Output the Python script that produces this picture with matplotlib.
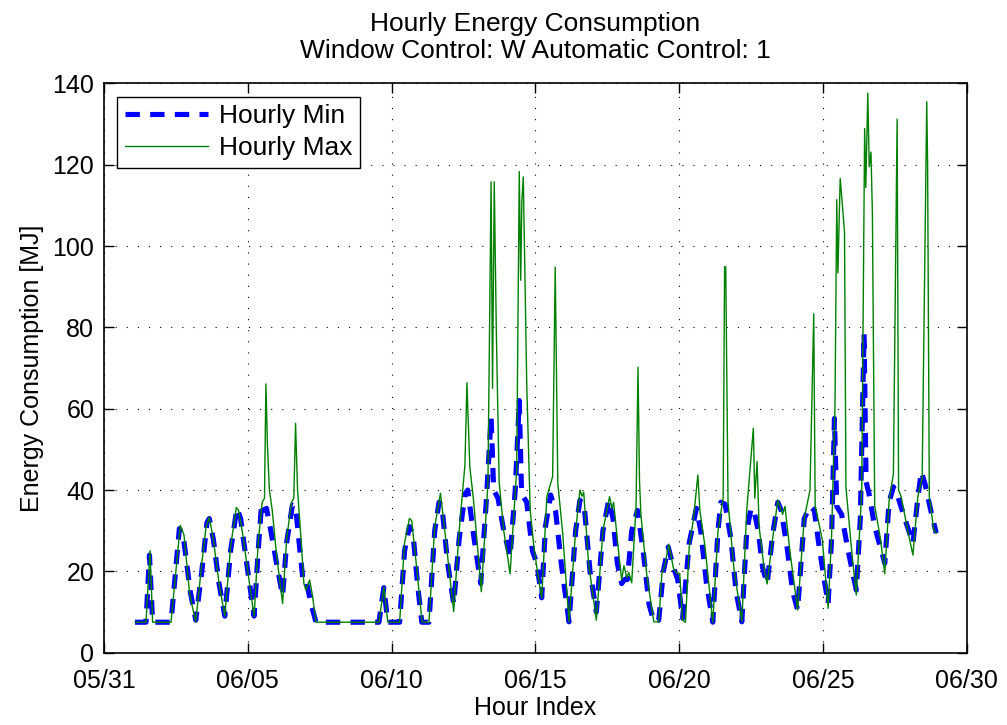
import numpy as np
import pandas as pd
import matplotlib
matplotlib.use('Agg')
import matplotlib.pyplot as plt
import matplotlib.dates as mdates

plt.rcParams['font.family'] = ['Liberation Sans', 'DejaVu Sans']

# Hourly min: (day offset from 05/31, MJ)
t_min = [1.08, 1.46, 1.58, 1.69, 2.33, 2.62, 2.75, 3.00, 3.19, 3.40, 3.58, 3.66, 3.80, 4.00,
         4.20, 4.40, 4.62, 4.75, 5.00, 5.22, 5.36, 5.48, 5.55, 5.65, 5.80, 6.00, 6.21, 6.35,
         6.55, 6.66, 6.80, 6.93, 7.05, 7.20, 7.37, 9.56, 9.73, 9.87, 10.28, 10.45, 10.62, 10.75,
         10.90, 11.05, 11.30, 11.50, 11.65, 11.75, 11.95, 12.16, 12.35, 12.55, 12.65, 12.85,
         13.10, 13.30, 13.46, 13.55, 13.70, 13.90, 14.12, 14.30, 14.44, 14.52, 14.70, 14.90,
         15.05, 15.22, 15.35, 15.53, 15.70, 15.90, 16.17, 16.40, 16.55, 16.70, 16.90, 17.12,
         17.35, 17.55, 17.70, 17.85, 18.00, 18.10, 18.20, 18.35, 18.55, 18.75, 18.95, 19.12,
         19.29, 19.45, 19.62, 19.80, 19.95, 20.12, 20.35, 20.60, 20.75, 20.95, 21.17, 21.35,
         21.45, 21.60, 21.80, 21.98, 22.18, 22.35, 22.50, 22.60, 22.75, 22.90, 23.06, 23.25,
         23.43, 23.55, 23.75, 23.95, 24.12, 24.35, 24.55, 24.70, 24.85, 25.00, 25.18, 25.30,
         25.40, 25.48, 25.65, 25.85, 26.16, 26.30, 26.43, 26.50, 26.60, 26.80, 27.15, 27.30,
         27.45, 27.60, 27.80, 28.13, 28.30, 28.42, 28.55, 28.75, 28.94]
e_min = [7.5, 7.5, 24, 7.5, 7.5, 30.5, 29, 15, 8, 20, 32, 33, 28, 17,
         9, 25, 35.5, 33, 20, 9, 25, 36.7, 35, 35.5, 30, 22, 14, 27,
         36.3, 36, 26, 17, 17, 12, 7.5, 7.5, 16, 7.5, 7.5, 25, 31, 29,
         17, 7.5, 7.5, 30, 37, 36, 22, 12, 28, 39, 40, 29,
         17, 38, 58, 40, 38, 30, 23.6, 40, 62, 39, 37, 25,
         22, 13.5, 31, 38.8, 35, 22, 7.6, 30, 37.5, 36, 20, 10,
         30, 37.5, 33, 22, 17, 18, 18, 30, 35, 25, 12, 7.6,
         8, 20, 26, 21, 18, 8.5, 27, 35.5, 30, 17, 7.5, 30,
         37, 36.5, 28, 15, 7.6, 30, 35.5, 35, 30, 21, 17, 29,
         37, 35, 26, 15, 10.5, 33, 36, 35, 27, 20, 12, 28,
         57.6, 36, 34, 26, 15.4, 33, 78.5, 42, 39.2, 31, 22, 37,
         40.8, 38.5, 34, 26.9, 38, 44.5, 41.5, 35, 29.4]

# Hourly max
t_max = [1.08, 1.46, 1.60, 1.69, 2.33, 2.65, 2.78, 2.97, 3.02, 3.19, 3.40, 3.55, 3.66, 3.80,
         4.00, 4.20, 4.40, 4.60, 4.68, 4.85, 5.00, 5.22, 5.36, 5.50, 5.58, 5.63, 5.68, 5.75,
         5.85, 6.00, 6.21, 6.35, 6.52, 6.60, 6.66, 6.73, 6.85, 6.95, 7.02, 7.15, 7.25, 7.37,
         9.56, 9.73, 9.87, 10.28, 10.45, 10.62, 10.70, 10.90, 11.06, 11.30, 11.50, 11.70,
         11.85, 12.16, 12.35, 12.55, 12.62, 12.72, 12.85, 13.12, 13.35, 13.46, 13.51, 13.57,
         13.64, 13.74, 13.90, 14.12, 14.35, 14.44, 14.49, 14.53, 14.58, 14.70, 14.82, 14.95,
         15.05, 15.22, 15.40, 15.60, 15.69, 15.78, 15.95, 16.17, 16.40, 16.55, 16.62, 16.68,
         16.85, 17.12, 17.35, 17.58, 17.66, 17.72, 17.90, 18.00, 18.08, 18.18, 18.25, 18.35,
         18.50, 18.57, 18.62, 18.67, 18.88, 19.12, 19.29, 19.40, 19.50, 19.64, 19.80, 19.92,
         20.02, 20.12, 20.22, 20.35, 20.50, 20.65, 20.72, 20.90, 21.17, 21.35, 21.53, 21.58,
         21.62, 21.70, 21.90, 22.18, 22.35, 22.58, 22.63, 22.71, 22.78, 22.95, 23.06, 23.25,
         23.43, 23.60, 23.68, 23.85, 24.12, 24.35, 24.55, 24.68, 24.73, 24.98, 25.18, 25.30,
         25.42, 25.48, 25.52, 25.60, 25.69, 25.75, 25.80, 26.00, 26.16, 26.35, 26.45, 26.49,
         26.56, 26.61, 26.67, 26.72, 26.80, 27.00, 27.15, 27.30, 27.45, 27.58, 27.63, 27.72,
         27.95, 28.13, 28.30, 28.45, 28.61, 28.64, 28.70, 28.75, 28.85, 28.94]
e_max = [7.5, 7.5, 25.1, 7.5, 7.5, 31.3, 29, 15, 13, 7.6, 22, 31, 33.3, 28,
         17, 9, 26, 35.7, 35, 28, 20, 8.9, 27, 37, 38, 66.1, 51.5, 40,
         35, 24, 12.1, 28, 37, 38, 56.4, 40, 28, 17, 15.4, 17.9, 14, 7.5,
         7.5, 16.2, 7.5, 7.5, 27, 33, 32.5, 19, 7.5, 7.5, 31, 39.2,
         30, 10.1, 30, 46.1, 66.4, 45.7, 37.5, 15, 41.6, 115.8, 65, 115.8,
         80, 42, 30, 19.4, 45, 118.3, 91.6, 111, 117, 66, 35, 26,
         21, 13.4, 38.4, 43.3, 94.8, 41.7, 29.4, 7.6, 30, 40, 38.5, 39.5,
         22, 8, 30, 38.4, 35.5, 37, 24.4, 17.9, 21.4, 18.5, 19.7, 17.2,
         35.9, 70.2, 42.5, 33.9, 18.7, 7.6, 7.6, 19.5, 21.4, 26.7, 20.8, 19.5,
         19.5, 8, 7.5, 26, 33, 43.7, 35, 26, 7.4, 30, 38, 94.9,
         94.9, 37, 21, 7.6, 35, 55.2, 38, 47, 31, 21, 16.9, 28,
         37.5, 34, 36, 25, 10.5, 33, 40, 83.3, 36.2, 27.7, 10.9, 28.5,
         61, 111.4, 93.4, 116.6, 108.9, 103.4, 40.7, 25, 14.2, 40, 128.9, 114.4,
         137.6, 119.5, 123.1, 108, 36.2, 28, 19.4, 37.3, 44, 131.2, 40, 38.4,
         30, 24, 38.4, 43, 135.5, 120, 38, 35.9, 30.2, 29.4]

base = pd.Timestamp('2013-05-31')
time_min = base + pd.to_timedelta(t_min, unit='D')
time_max = base + pd.to_timedelta(t_max, unit='D')

fig = plt.figure(figsize=(10.07, 7.25), dpi=100)
ax = fig.add_axes([0.1033, 0.0997, 0.8567, 0.7853])

ax.plot(time_min, e_min, color='blue', lw=3.7, linestyle=(0, (2.8, 2.0)), label='Hourly Min')
ax.plot(time_max, e_max, color='green', lw=1.0, label='Hourly Max')

ax.set_xlim(base, base + pd.Timedelta(days=30))
ax.set_ylim(0, 140)
ax.set_yticks(np.arange(0, 141, 20))
ax.set_xticks([base + pd.Timedelta(days=d) for d in range(0, 31, 5)])
ax.xaxis.set_major_formatter(mdates.DateFormatter('%m/%d'))

ax.grid(True, color='black', linestyle=(0, (1, 9)), lw=0.8)
ax.tick_params(direction='in', top=True, right=True, labelsize=18, length=7, width=1)
ax.tick_params(axis='y', pad=7)
ax.tick_params(axis='x', pad=12)
for s in ax.spines.values():
    s.set_linewidth(1.2)

ax.set_xlabel('Hour Index', fontsize=18, labelpad=2)
ax.set_ylabel('Energy Consumption [MJ]', fontsize=18, labelpad=6)
ax.set_title('Hourly Energy Consumption\nWindow Control: W Automatic Control: 1',
             fontsize=19, pad=18, linespacing=1.2)

leg = ax.legend(loc='upper left', fontsize=19, fancybox=False, edgecolor='black',
                framealpha=1, borderaxespad=0.5, handlelength=3.15, labelspacing=0.3,
                handletextpad=0.4, borderpad=0.3)
leg.get_frame().set_linewidth(1.0)

fig.savefig('out.png', dpi=100)
